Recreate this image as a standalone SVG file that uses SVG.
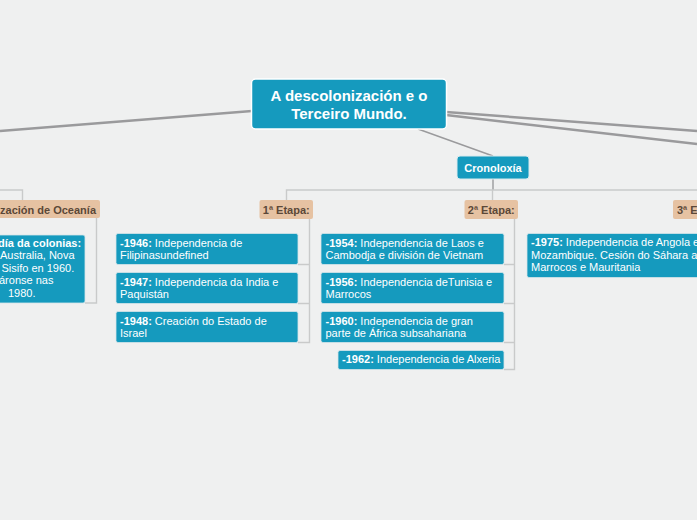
<svg xmlns="http://www.w3.org/2000/svg" width="697" height="520" viewBox="0 0 697 520">
<style>
.t{font-family:"Liberation Sans",Arial,sans-serif;font-size:11px;fill:#fff}
.b{font-weight:bold}
.blue{fill:#159abe;stroke:#d6e4e8;stroke-width:0.8}
.tan{fill:#e6c2a2}
.et{font-family:"Liberation Sans",Arial,sans-serif;font-size:11px;font-weight:bold;fill:#5b4838}
.main{stroke:#9a9a9c;stroke-width:2.5;fill:none}
.tree{stroke:#c9caca;stroke-width:1.4;fill:none}
</style>
<rect width="697" height="520" fill="#eff0f0"/>
<g id="connectors">
<line class="main" x1="252" y1="111" x2="0" y2="131"/>
<line class="main" x1="446" y1="112" x2="697" y2="131"/>
<line class="main" x1="446" y1="115" x2="697" y2="144"/>
<line x1="418" y1="129" x2="493" y2="156" stroke="#9a9a9c" stroke-width="1.4"/>
<line x1="493" y1="179" x2="493" y2="190" stroke="#9a9a9c" stroke-width="1.4"/>
<path class="tree" d="M286.5 200V190H697"/>
<path class="tree" d="M492.5 190V200"/>
<path class="tree" d="M0 190H22.5V200"/>
<path class="tree" d="M96.5 218V303H85"/>
<path class="tree" d="M309.5 219V342.5H298M298 264.5H309.5M298 303.5H309.5"/>
<path class="tree" d="M514.5 219V369.5H504M504 264.5H514.5M504 303.5H514.5M504 342.5H514.5"/>
</g>
<g id="central">
<rect x="251.5" y="79" width="195" height="50" rx="4" fill="#159abe" stroke="#ffffff" stroke-width="1.5"/>
<text x="349" y="101" text-anchor="middle" font-family="Liberation Sans, Arial, sans-serif" font-size="15" font-weight="bold" fill="#fff">A descolonización e o</text>
<text x="349" y="118.5" text-anchor="middle" font-family="Liberation Sans, Arial, sans-serif" font-size="15" font-weight="bold" fill="#fff">Terceiro Mundo.</text>
</g>
<g id="cronoloxia">
<rect x="457" y="156" width="72" height="23" rx="3" fill="#159abe" stroke="#d9eaee" stroke-width="1"/>
<text class="t b" x="493" y="171.5" text-anchor="middle">Cronoloxía</text>
</g>
<g id="oceania">
<rect class="tan" x="-60" y="200" width="160" height="18" rx="2"/>
<text class="et" x="96" y="213.5" text-anchor="end">zación de Oceanía</text>
</g>
<g id="oceania-child">
<rect class="blue" x="-10" y="235" width="95" height="68" rx="2"/>
<text class="t b" x="-2" y="246.5">día da colonias:</text>
<text class="t" x="0" y="259">Australia, Nova</text>
<text class="t" x="1.5" y="271.5">Sisifo en 1960.</text>
<text class="t" x="-1" y="284">áronse nas</text>
<text class="t" x="8" y="296.5">1980.</text>
</g>
<g id="etapa1">
<rect class="tan" x="259.5" y="200" width="53.5" height="19" rx="2"/>
<text class="et" x="286.3" y="214" text-anchor="middle">1ª Etapa:</text>
</g>
<g id="e1-1946">
<rect class="blue" x="116" y="233.5" width="182" height="31" rx="2"/>
<text class="t" x="120" y="246.5"><tspan class="b">-1946:</tspan> Independencia de</text>
<text class="t" x="120" y="259">Filipinasundefined</text>
</g>
<g id="e1-1947">
<rect class="blue" x="116" y="272.5" width="182" height="31" rx="2"/>
<text class="t" x="120" y="285.5"><tspan class="b">-1947:</tspan> Independencia da India e</text>
<text class="t" x="120" y="298">Paquistán</text>
</g>
<g id="e1-1948">
<rect class="blue" x="116" y="311.5" width="182" height="31" rx="2"/>
<text class="t" x="120" y="324.5"><tspan class="b">-1948:</tspan> Creación do Estado de</text>
<text class="t" x="120" y="337">Israel</text>
</g>
<g id="etapa2">
<rect class="tan" x="464.5" y="200" width="53.5" height="19" rx="2"/>
<text class="et" x="491.3" y="214" text-anchor="middle">2ª Etapa:</text>
</g>
<g id="e2-1954">
<rect class="blue" x="321" y="233.5" width="183" height="31" rx="2"/>
<text class="t" x="325.5" y="246.5"><tspan class="b">-1954:</tspan> Independencia de Laos e</text>
<text class="t" x="325.5" y="259">Cambodja e división de Vietnam</text>
</g>
<g id="e2-1956">
<rect class="blue" x="321" y="272.5" width="183" height="31" rx="2"/>
<text class="t" x="325.5" y="285.5"><tspan class="b">-1956:</tspan> Independencia deTunisia e</text>
<text class="t" x="325.5" y="298">Marrocos</text>
</g>
<g id="e2-1960">
<rect class="blue" x="321" y="311.5" width="183" height="31" rx="2"/>
<text class="t" x="325.5" y="324.5"><tspan class="b">-1960:</tspan> Independencia de gran</text>
<text class="t" x="325.5" y="337">parte de África subsahariana</text>
</g>
<g id="e2-1962">
<rect class="blue" x="338" y="350.5" width="166" height="19" rx="2"/>
<text class="t" x="342" y="363"><tspan class="b">-1962:</tspan> Independencia de Alxeria</text>
</g>
<g id="etapa3">
<rect class="tan" x="673" y="200" width="54" height="19" rx="2"/>
<text class="et" x="677" y="214">3ª Etapa:</text>
</g>
<g id="e3-1975">
<rect class="blue" x="527" y="233.5" width="190" height="44" rx="2"/>
<text class="t" x="531" y="246"><tspan class="b">-1975:</tspan> Independencia de Angola e</text>
<text class="t" x="531" y="258.5">Mozambique. Cesión do Sáhara a</text>
<text class="t" x="531" y="271">Marrocos e Mauritania</text>
</g>
</svg>
